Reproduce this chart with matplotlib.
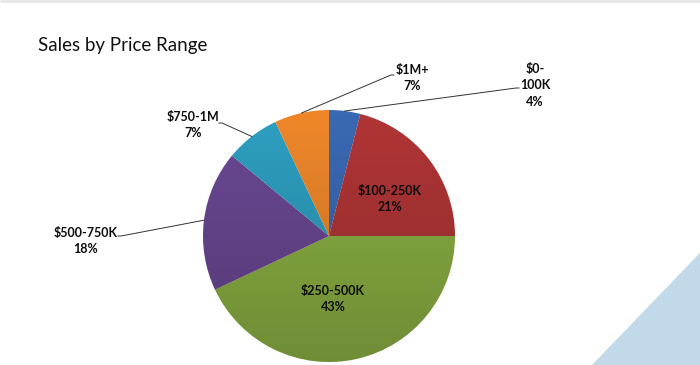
import numpy as np
import matplotlib
matplotlib.use("Agg")
import matplotlib.pyplot as plt
from matplotlib.patches import Circle, Polygon

# ---- data ----
categories = ["$0-\n100K", "$100-250K", "$250-500K", "$500-750K", "$750-1M", "$1M+"]
shares = [4, 21, 43, 18, 7, 7]
colors = ["#3a69b3", "#b03536", "#8bb043", "#6a4893", "#2e9fc1", "#ef872a"]
title = "Sales by Price Range"

W, H = 700, 365
fig = plt.figure(figsize=(W / 100, H / 100), dpi=100)
ax = fig.add_axes([0, 0, 1, 1])

plt.rcParams["font.family"] = ["Lato", "DejaVu Sans"]

cx, cy, R = 329, 236, 126
wedges, _ = ax.pie(shares, colors=colors, startangle=-90, counterclock=True,
                   center=(cx, cy), radius=R, frame=True,
                   wedgeprops=dict(linewidth=0))
ax.set_xlim(0, W)
ax.set_ylim(H, 0)
ax.set_aspect("equal")
ax.axis("off")

# top light border line
ax.plot([0, W], [0.8, 0.8], color="#e6e6e6", lw=2, solid_capstyle="butt")

# decorative triangle bottom right
ax.add_patch(Polygon([[698, 255], [W, 253], [W, H], [592, H]], closed=True,
                     facecolor="#c1d9e8", edgecolor="none"))

# soft shading gradient (darker toward bottom)
grad = np.linspace(0, 1, 256).reshape(-1, 1)
shade = np.zeros((256, 1, 4))
shade[..., 3] = grad * 0.2
clip = Circle((cx, cy), R, transform=ax.transData)
im = ax.imshow(shade, extent=(cx - R, cx + R, cy + R, cy - R), aspect="auto",
               interpolation="bilinear", zorder=3)
im.set_clip_path(clip)
ax.set_xlim(0, W)
ax.set_ylim(H, 0)

# label positions
cum = np.concatenate([[0], np.cumsum(shares)]) / sum(shares)
def edge_pt(i):
    a = np.deg2rad((cum[i] + cum[i + 1]) / 2 * 360)
    return cx + R * np.sin(a), cy - R * np.cos(a)

fs = 9
lbl = dict(fontsize=fs, fontweight="bold", ha="center", va="center",
           linespacing=1.45, color="#0d0d0d", zorder=5)

# inside labels
ax.text(390, 199, f"{categories[1]}\n{shares[1]}%", **lbl)
ax.text(333, 299, f"{categories[2]}\n{shares[2]}%", **lbl)

# outside labels with leader lines
outside = {0: ((535, 85), (516, 88), (519, 88)),
           5: ((412, 78), (391, 75), (394, 75)),
           4: ((193, 125), (222, 123), (219, 123)),
           3: ((86, 241), (121, 236), (118, 236))}
for i, (tpos, knee, end) in outside.items():
    ax.text(tpos[0], tpos[1], f"{categories[i]}\n{shares[i]}%", **lbl)
    sx, sy = edge_pt(i)
    ax.plot([sx, knee[0], end[0]], [sy, knee[1], end[1]], color="#333333",
            lw=0.7, zorder=4)

ax.text(38, 45, title, fontsize=13.5, ha="left", va="center", color="#111111")

fig.savefig("out.png", dpi=100)
